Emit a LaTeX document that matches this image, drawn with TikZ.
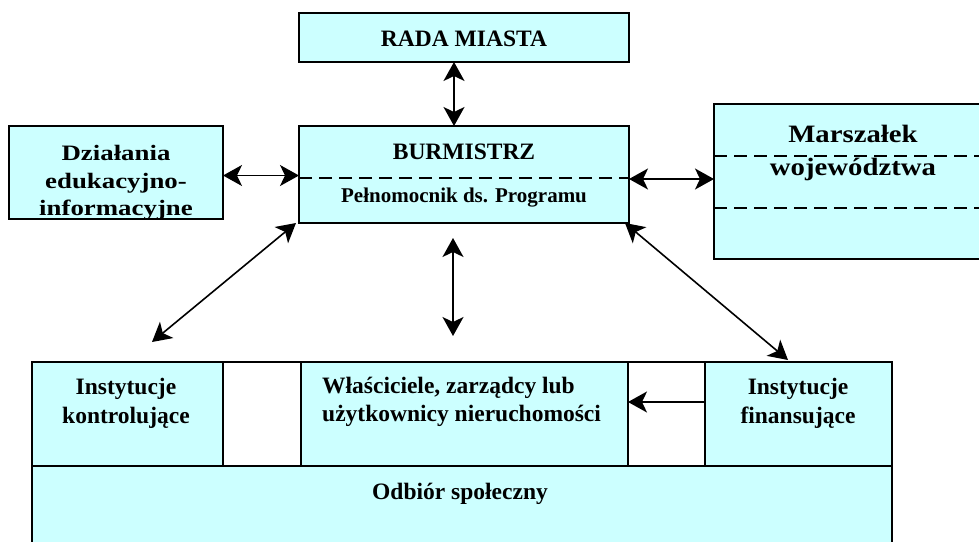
\documentclass[tikz,border=0pt]{standalone}
\usepackage{fontspec}
\setmainfont{Liberation Serif}
\newfontfamily\dzfont[FakeStretch=1.22]{Liberation Serif}
\newfontfamily\mrfont[FakeStretch=1.15]{Liberation Serif}
\usetikzlibrary{arrows.meta}
\definecolor{boxcyan}{HTML}{CCFFFF}
\begin{document}
\begin{tikzpicture}[x=1pt,y=-1pt,
  box/.style={draw=black, fill=boxcyan, line width=1.7pt, inner sep=0pt, outer sep=0pt},
  border/.style={draw=black, line width=1.7pt},
  dashline/.style={draw=black, line width=1.8pt, dash pattern=on 13pt off 7pt},
  tx/.style={font=\bfseries\fontsize{23.5}{29}\selectfont, inner sep=0pt, align=center},
  dbl/.style={line width=1.6pt, {Stealth[length=19pt,width=21pt,inset=5pt]}-{Stealth[length=19pt,width=21pt,inset=5pt]}},
  sgl/.style={line width=1.6pt, -{Stealth[length=19pt,width=21pt,inset=5pt]}}]
\clip (0,0) rectangle (979,541);
\fill[white] (0,0) rectangle (979,541);

% boxes
\node[box, minimum width=330pt, minimum height=49pt] (rada) at (464,37.5) {};
\node[box, minimum width=330pt, minimum height=97pt] (burm) at (464,174.5) {};
\node[box, minimum width=214pt, minimum height=93pt] (dzial) at (116,172.5) {};
\node[box, minimum width=276pt, minimum height=155pt] (marsz) at (852,181.5) {};
\node[draw=black, fill=white, line width=1.7pt, inner sep=0pt, minimum width=860pt, minimum height=104pt] (frame) at (462,414) {};
\node[box, minimum width=191pt, minimum height=104pt] (kontr) at (127.5,414) {};
\node[box, minimum width=327pt, minimum height=104pt] (wlasc) at (464.5,414) {};
\node[box, minimum width=187pt, minimum height=104pt] (finans) at (798.5,414) {};
\node[box, minimum width=860pt, minimum height=94pt] (odbior) at (462,513) {};

% texts
\node[tx, anchor=base] (radat) at (464,46.7) {RADA MIASTA};
\node[tx, anchor=base] (burmt) at (464,159) {BURMISTRZ};
\node[tx, font=\bfseries\fontsize{21}{25}\selectfont, anchor=base] (pelt) at (464,202) {Pełnomocnik ds. Programu};
\begin{scope}
  \clip (dzial.south west) rectangle (dzial.north east);
  \node[tx, font=\dzfont\bfseries\fontsize{22}{27.5}\selectfont] (dzialt) at (116,183) {Działania\\edukacyjno-\\informacyjne};
\end{scope}
\draw[border] (dzial.south west) rectangle (dzial.north east);
\node[tx, font=\mrfont\bfseries\fontsize{25}{33}\selectfont] (marszt) at (853,152.5) {Marszałek\\województwa};
\node[tx] (kontrt) at (126,403) {Instytucje\\kontrolujące};
\node[tx, anchor=west, align=left, font=\bfseries\fontsize{23.5}{28}\selectfont] (wlasct) at (322,402) {Właściciele, zarządcy lub\\użytkownicy nieruchomości};
\node[tx] (finanst) at (798,403) {Instytucje\\finansujące};
\node[tx, anchor=base] (odbiort) at (460,499) {Odbiór społeczny};

% dashed lines
\draw[dashline] ([yshift=-3.5pt]burm.west) -- ([yshift=-3.5pt]burm.east);
\draw[dashline] ([yshift=25.5pt]marsz.west) -- ([yshift=25.5pt]marsz.east);
\draw[dashline] ([yshift=-26.5pt]marsz.west) -- ([yshift=-26.5pt]marsz.east);

% free ends
\coordinate (ldiag) at (152,342);
\coordinate (mtop) at (453,238);
\coordinate (mbot) at (453,336);
\coordinate (rdiag) at (788,360);

% connectors
\draw[dbl] ([xshift=-10pt]rada.south) -- ([xshift=-10pt]burm.north);
\draw[dbl] ([yshift=-3pt]dzial.east) -- ([yshift=-3pt]dzial.east -| burm.west);
\draw[dbl] ([yshift=-4.5pt]burm.east) -- ([yshift=-4.5pt]burm.east -| marsz.west);
\draw[dbl] ([xshift=-3pt]burm.south west) -- (ldiag);
\draw[dbl] (mtop) -- (mbot);
\draw[dbl] ([xshift=-4pt]burm.south east) -- (rdiag);
\draw[sgl] ([yshift=12pt]finans.west) -- ([yshift=12pt]wlasc.east);
\end{tikzpicture}
\end{document}
